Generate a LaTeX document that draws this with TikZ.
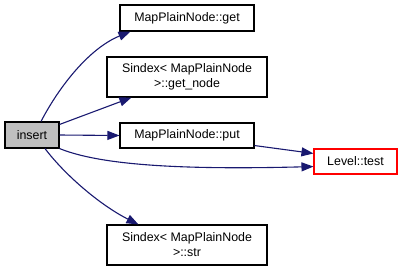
\documentclass[tikz,border=0pt]{standalone}
\usepackage{fontspec}
\setmainfont{Liberation Sans}
\usetikzlibrary{arrows.meta}
\definecolor{edgeblue}{HTML}{191970}
\definecolor{grayfill}{HTML}{BFBFBF}
\begin{document}
\begin{tikzpicture}[x=1pt,y=-1pt,
  fn/.style={draw=black, line width=1.1pt, fill=white, inner sep=0pt,
    align=center, font=\fontsize{12.4}{15}\selectfont},
  edge/.style={draw=edgeblue, line width=1.1pt,
    -{Triangle[length=12pt,width=9pt]}}]
\useasboundingbox (0,0) rectangle (403,271);
% called functions
\node[fn, fill=grayfill, minimum width=54pt, minimum height=26pt] (insert) at (32,135) {insert};
\node[fn, minimum width=134pt, minimum height=26pt] (get) at (187,18) {MapPlainNode::get};
\node[fn, minimum width=160pt, minimum height=40pt] (getnode) at (187,77) {Sindex< MapPlainNode\\>::get\_node};
\node[fn, minimum width=134pt, minimum height=25pt] (put) at (187,135.5) {MapPlainNode::put};
\node[fn, draw=red, minimum width=83pt, minimum height=25pt] (level) at (355.5,161.5) {Level::test};
\node[fn, minimum width=160pt, minimum height=40pt] (str) at (187,245) {Sindex< MapPlainNode\\>::str};
% call edges
\draw[edge] ([xshift=9pt]insert.north) .. controls (60,85) and (90,48) .. ([xshift=11pt]get.south west);
\draw[edge] ([yshift=-3pt]insert.north east) -- ([xshift=25pt]getnode.south west);
\draw[edge] (insert.east) -- (put.west);
\draw[edge] ([yshift=3pt]put.south east) -- ([yshift=-5pt]level.north west);
\draw[edge] (insert.south east) .. controls (100,165) and (180,170) .. ([yshift=8pt]level.south west);
\draw[edge] ([xshift=13pt]insert.south) .. controls (65,175) and (100,205) .. ([xshift=32pt]str.north west);
\end{tikzpicture}
\end{document}
